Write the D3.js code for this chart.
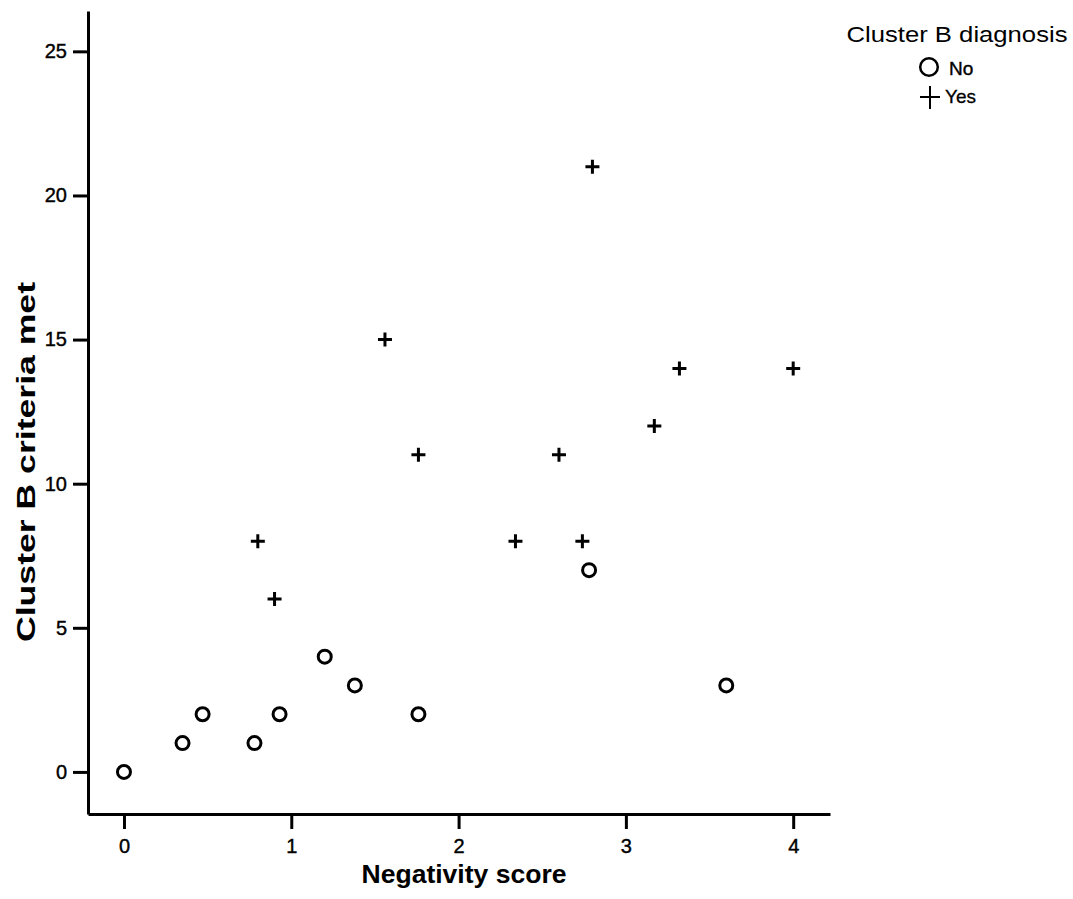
<!DOCTYPE html>
<html>
<head>
<meta charset="utf-8">
<script src="https://cdn.jsdelivr.net/npm/d3@7"></script>
<style>
  body { margin: 0; background: #fff; }
  text { font-family: Arial, "Liberation Sans", sans-serif; fill: #000; }
</style>
</head>
<body>
<svg id="chart" width="1073" height="899"></svg>
<script>
// negativity score / criteria met, per diagnosis group
const noX = [0, 0.35, 0.47, 0.78, 0.93, 1.20, 1.38, 1.76, 2.78, 3.60];
const noY = [0, 1, 2, 1, 2, 4, 3, 2, 7, 3];
const yesX = [0.80, 0.90, 1.56, 1.76, 2.34, 2.60, 2.74, 2.80, 3.17, 3.32, 4.0];
const yesY = [8, 6, 15, 11, 8, 11, 8, 21, 12, 14, 14];
const xTicks = [0, 1, 2, 3, 4];
const yTicks = [0, 5, 10, 15, 20, 25];

const svg = d3.select('#chart');

const x = d3.scaleLinear().domain([-0.215, 4.22]).range([88, 830]);
const y = d3.scaleLinear().domain([-1.46, 26.4]).range([814, 11]);

// axes
let xAxis = svg.append('g')
  .attr('transform', 'translate(0,814)')
  .call(d3.axisBottom(x).tickValues(xTicks).tickFormat(d3.format('d'))
    .tickSize(15).tickSizeOuter(0).tickPadding(10));
let yAxis = svg.append('g')
  .attr('transform', 'translate(88,0)')
  .call(d3.axisLeft(y).tickValues(yTicks).tickFormat(d3.format('d'))
    .tickSize(15).tickSizeOuter(0).tickPadding(6));

[xAxis, yAxis].forEach(a => {
  a.select('.domain').attr('stroke', '#000').attr('stroke-width', 3);
  a.selectAll('.tick line').attr('stroke', '#000').attr('stroke-width', 3);
  a.selectAll('.tick text').style('font-size', '20px').attr('fill', '#000')
    .attr('stroke', '#000').attr('stroke-width', 0.4);
});

// axis titles
svg.append('text')
  .attr('x', 464).attr('y', 883)
  .attr('text-anchor', 'middle')
  .attr('textLength', 205).attr('lengthAdjust', 'spacingAndGlyphs')
  .style('font-size', '26px').style('font-weight', 'bold')
  .text('Negativity score');

svg.append('text')
  .attr('transform', 'translate(35,462) rotate(-90)')
  .attr('text-anchor', 'middle')
  .attr('textLength', 360).attr('lengthAdjust', 'spacingAndGlyphs')
  .style('font-size', '26px').style('font-weight', 'bold')
  .text('Cluster B criteria met');

// points
const noData = noX.map((v, i) => ({ x: v, y: noY[i] }));
const yesData = yesX.map((v, i) => ({ x: v, y: yesY[i] }));

svg.append('g').selectAll('circle')
  .data(noData)
  .join('circle')
  .attr('cx', d => x(d.x))
  .attr('cy', d => y(d.y))
  .attr('r', 6.5)
  .attr('fill', 'none')
  .attr('stroke', '#000')
  .attr('stroke-width', 3);

const cross = 7;
svg.append('g').selectAll('path')
  .data(yesData)
  .join('path')
  .attr('d', d => {
    let cx = x(d.x), cy = y(d.y);
    return `M${cx - cross},${cy}H${cx + cross}M${cx},${cy - cross}V${cy + cross}`;
  })
  .attr('stroke', '#000')
  .attr('stroke-width', 3);

// legend
const legend = svg.append('g');
legend.append('text')
  .attr('x', 957).attr('y', 42)
  .attr('text-anchor', 'middle')
  .attr('textLength', 221).attr('lengthAdjust', 'spacingAndGlyphs')
  .style('font-size', '22px')
  .text('Cluster B diagnosis');
legend.append('circle')
  .attr('cx', 929).attr('cy', 67).attr('r', 8.8)
  .attr('fill', 'none').attr('stroke', '#000').attr('stroke-width', 2.5);
legend.append('text')
  .attr('x', 949).attr('y', 75)
  .attr('stroke', '#000').attr('stroke-width', 0.4)
  .style('font-size', '19px')
  .text('No');
legend.append('path')
  .attr('d', 'M920,97H940M930,86V109')
  .attr('stroke', '#000').attr('stroke-width', 2);
legend.append('text')
  .attr('x', 945).attr('y', 103)
  .attr('stroke', '#000').attr('stroke-width', 0.3)
  .style('font-size', '19px')
  .text('Yes');
</script>
</body>
</html>
